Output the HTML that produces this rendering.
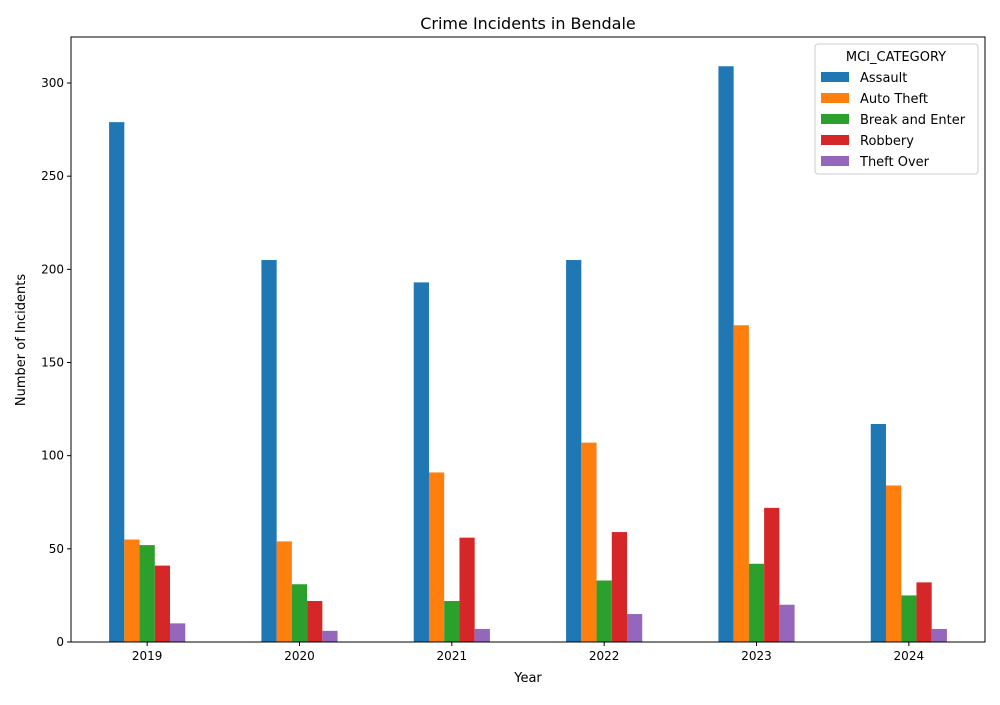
<!DOCTYPE html>
<html><head><meta charset="utf-8"><style>
body{margin:0;background:#fff;font-family:"Liberation Sans","DejaVu Sans",sans-serif;}
svg text{font-family:"DejaVu Sans","Liberation Sans",sans-serif;}
</style></head><body>
<svg id="chart" width="1000" height="700" xmlns="http://www.w3.org/2000/svg">
<rect width="1000" height="700" fill="#fff"/>
<text x="528" y="29" font-size="16" text-anchor="middle">Crime Incidents in Bendale</text>
<g id="bars"></g>
<g id="axes"></g>
<rect x="71" y="37" width="914" height="605" fill="none" stroke="#000" stroke-width="1"/>
<text x="528" y="682" font-size="13" text-anchor="middle">Year</text>
<text x="25" y="340" font-size="13" text-anchor="middle" transform="rotate(-90 25 340)">Number of Incidents</text>
<g id="legend"></g>
</svg>
<script>
const years = ["2019","2020","2021","2022","2023","2024"];
const seriesNames = ["Assault","Auto Theft","Break and Enter","Robbery","Theft Over"];
const assault = [279,205,193,205,309,117];
const autoTheft = [55,54,91,107,170,84];
const breakEnter = [52,31,22,33,42,25];
const robbery = [41,22,56,59,72,32];
const theftOver = [10,6,7,15,20,7];
const yTicks = [0,50,100,150,200,250,300];
const colors = ["#1f77b4","#ff7f0e","#2ca02c","#d62728","#9467bd"];
const series = [assault,autoTheft,breakEnter,robbery,theftOver];
const NS="http://www.w3.org/2000/svg";
const L=71,R=985,T=37,B=642,yMax=324.7;
const unit=(R-L)/years.length;
const xScale=i=>L+unit*(i+0.5);
const yScale=v=>B-(B-T)*v/yMax;
function mk(tag,attrs,parent){const e=document.createElementNS(NS,tag);for(const k in attrs)e.setAttribute(k,attrs[k]);parent.appendChild(e);return e;}
const bars=document.getElementById('bars'),axes=document.getElementById('axes'),leg=document.getElementById('legend');
const bw=unit*0.5/series.length;
series.forEach((s,si)=>{s.forEach((v,i)=>{
  const x=xScale(i)-unit*0.25+si*bw;
  const r=mk('rect',{x:x,y:yScale(v),width:bw,height:B-yScale(v),fill:colors[si]},bars);
  
  
});});
yTicks.forEach(t=>{const y=yScale(t);
  const l=mk('line',{x1:L-4,x2:L,y1:y,y2:y,stroke:'#000'},axes);
  
  
  const tx=mk('text',{x:L-7,y:y+4,'font-size':12,'text-anchor':'end'},axes);tx.textContent=t;
  
  
});
years.forEach((yr,i)=>{const x=xScale(i);
  const l=mk('line',{x1:x,x2:x,y1:B,y2:B+4,stroke:'#000'},axes);
  
  
  const tx=mk('text',{x:x,y:B+18,'font-size':12,'text-anchor':'middle'},axes);tx.textContent=yr;
  
  
});
const lb=mk('rect',{x:815,y:44,width:163,height:130,rx:3,fill:'#fff',stroke:'#ccc'},leg);


const lt=mk('text',{x:896,y:61,'font-size':13,'text-anchor':'middle'},leg);lt.textContent='MCI_CATEGORY';


seriesNames.forEach((n,si)=>{const y=72+si*21;
  const g=mk('g',{},leg);
  
  
  mk('rect',{x:821,y:y,width:28,height:10,fill:colors[si]},g);
  const t=mk('text',{x:860,y:y+10,'font-size':13},g);t.textContent=n;
});
</script>
</body></html>
